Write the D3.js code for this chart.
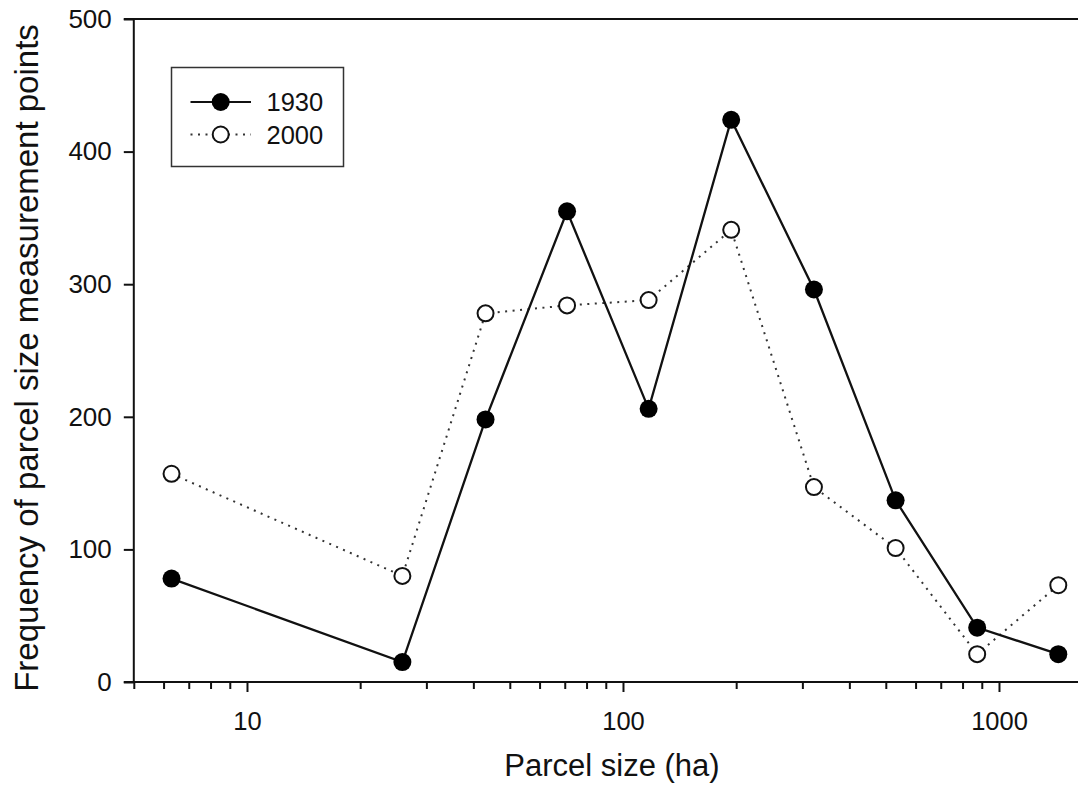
<!DOCTYPE html>
<html><head><meta charset="utf-8">
<script src="https://cdn.jsdelivr.net/npm/d3@7"></script>
<style>
body{margin:0;background:#fff;}
svg{display:block;}
text{font-family:"Liberation Sans",Arial,sans-serif;fill:#111;}
</style>
</head><body>
<svg id="c" width="1078" height="797"></svg>
<script>
// ---- data ----
const parcelSize = [6.3, 25.9, 43.1, 71, 117, 194, 322, 531, 875, 1438];
const freq1930 = [78, 15, 198, 355, 206, 424, 296, 137, 41, 21];
const freq2000 = [157, 80, 278, 284, 288, 341, 147, 101, 21, 73];
const seriesNames = ["1930", "2000"];
const yTicks = [0, 100, 200, 300, 400, 500];
const xMajorTicks = [10, 100, 1000];
const xMinorTicks = [5,6,7,8,9,20,30,40,50,60,70,80,90,200,300,400,500,600,700,800,900];
const xTitle = "Parcel size (ha)";
const yTitle = "Frequency of parcel size measurement points";

// ---- layout ----
const W = 1078, H = 797;
const x0 = 133.8, decade = 376;
const svg = d3.select("#c");
const x = d3.scaleLog().domain([5, 2000]).range([x0, x0 + decade * Math.log10(2000 / 5)]);
const y = d3.scaleLinear().domain([0, 500]).range([682, 19]);
const font = "'Liberation Sans', Arial, sans-serif";

// frame lines
const frame = svg.append("g").attr("stroke", "#111").attr("stroke-width", 2);
frame.append("line").attr("x1", x0).attr("x2", x0).attr("y1", y(500)).attr("y2", y(0));
frame.append("line").attr("x1", x0 - 10).attr("x2", W).attr("y1", y(0)).attr("y2", y(0));
frame.append("line").attr("x1", x0 - 10).attr("x2", W).attr("y1", y(500)).attr("y2", y(500));

// y axis
const yAxis = svg.append("g").attr("transform", `translate(${x0},0)`)
  .call(d3.axisLeft(y).tickValues(yTicks).tickSize(10).tickSizeOuter(0).tickPadding(12));
yAxis.select(".domain").remove();
yAxis.selectAll("line").attr("stroke", "#111").attr("stroke-width", 2);
yAxis.selectAll("text").attr("font-size", 26).attr("font-family", font).attr("fill", "#111");

// x axis major
const xAxis = svg.append("g").attr("transform", `translate(0,${y(0)})`)
  .call(d3.axisBottom(x).tickValues(xMajorTicks).tickFormat(d3.format("d")).tickSize(10).tickSizeOuter(0).tickPadding(20));
xAxis.select(".domain").remove();
xAxis.selectAll("line").attr("stroke", "#111").attr("stroke-width", 2);
xAxis.selectAll("text").attr("font-size", 25.5).attr("font-family", font).attr("fill", "#111");

// x axis minor
const xMinor = svg.append("g").attr("transform", `translate(0,${y(0)})`)
  .call(d3.axisBottom(x).tickValues(xMinorTicks).tickFormat("").tickSize(7).tickSizeOuter(0));
xMinor.select(".domain").remove();
xMinor.selectAll("line").attr("stroke", "#111").attr("stroke-width", 2);

// titles
svg.append("text").attr("x", 612).attr("y", 776).attr("text-anchor", "middle")
  .attr("font-size", 31).text(xTitle);
svg.append("text").attr("transform", "translate(38,358) rotate(-90)").attr("text-anchor", "middle")
  .attr("font-size", 33).text(yTitle);

// series
const line = d3.line().x((d, i) => x(parcelSize[i])).y(d => y(d));
svg.append("path").datum(freq2000).attr("d", line).attr("fill", "none")
  .attr("stroke", "#333").attr("stroke-width", 2).attr("stroke-dasharray", "2,5.5");
svg.append("path").datum(freq1930).attr("d", line).attr("fill", "none")
  .attr("stroke", "#111").attr("stroke-width", 2.3);
svg.append("g").selectAll("circle").data(freq2000).join("circle")
  .attr("cx", (d, i) => x(parcelSize[i])).attr("cy", d => y(d)).attr("r", 8)
  .attr("fill", "#fff").attr("stroke", "#111").attr("stroke-width", 2);
svg.append("g").selectAll("circle").data(freq1930).join("circle")
  .attr("cx", (d, i) => x(parcelSize[i])).attr("cy", d => y(d)).attr("r", 9)
  .attr("fill", "#000");

// legend
const lg = svg.append("g");
lg.append("rect").attr("x", 171.5).attr("y", 67.5).attr("width", 172).attr("height", 99)
  .attr("fill", "#fff").attr("stroke", "#333").attr("stroke-width", 1.5);
const rows = [{name: seriesNames[0], yy: 102, filled: true}, {name: seriesNames[1], yy: 134.5, filled: false}];
rows.forEach(r => {
  lg.append("line").attr("x1", 190.5).attr("x2", 251).attr("y1", r.yy).attr("y2", r.yy)
    .attr("stroke", r.filled ? "#111" : "#333").attr("stroke-width", 2)
    .attr("stroke-dasharray", r.filled ? null : "2,5.5");
  lg.append("circle").attr("cx", 220.7).attr("cy", r.yy).attr("r", r.filled ? 9 : 8)
    .attr("fill", r.filled ? "#000" : "#fff").attr("stroke", "#111").attr("stroke-width", r.filled ? 0 : 2);
  lg.append("text").attr("x", 266.5).attr("y", r.yy + 9).attr("font-size", 25.5).text(r.name);
});
</script>
</body></html>
